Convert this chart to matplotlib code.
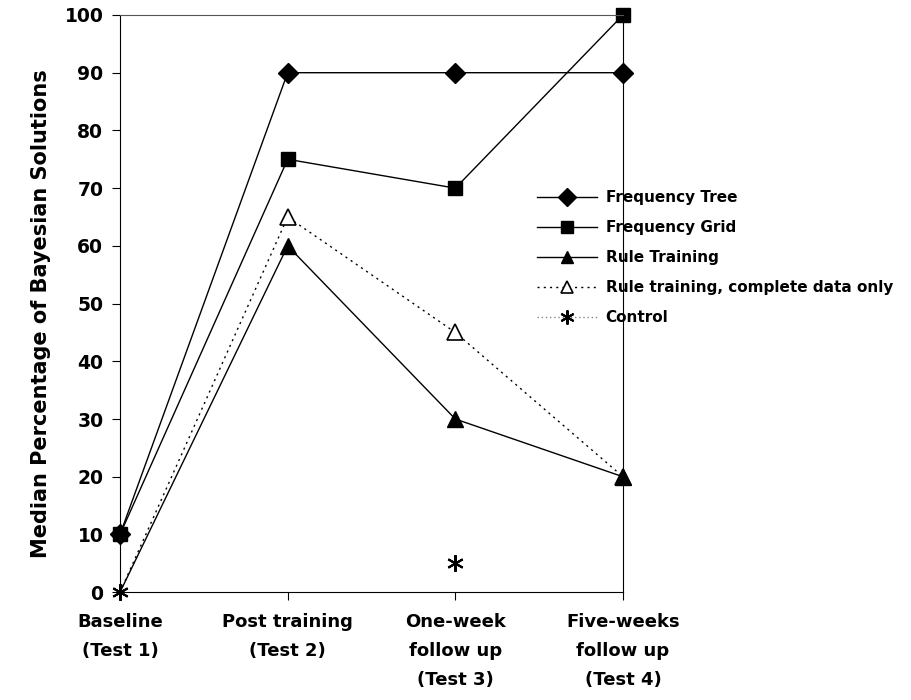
import numpy as np
import matplotlib
matplotlib.use('Agg')
import matplotlib.pyplot as plt

plt.rcParams['font.family'] = ['DejaVu Sans']

# data
tests = ['Baseline\n(Test 1)', 'Post training\n(Test 2)',
         'One-week\nfollow up\n(Test 3)', 'Five-weeks\nfollow up\n(Test 4)']
freq_tree = [10, 90, 90, 90]
freq_grid = [10, 75, 70, 100]
rule_training = [0, 60, 30, 20]
rule_complete = [0, 65, 45, 20]
control = [0, np.nan, 5, np.nan]

x = np.arange(len(tests))

fig = plt.figure(figsize=(9.12, 7.0), dpi=100)
ax = fig.add_axes([0.1316, 0.154, 0.5515, 0.8246])

ax.plot(x, rule_complete, color='black', linestyle=(0, (1.5, 3)), linewidth=1,
        marker='^', markersize=11, markerfacecolor='white', markeredgecolor='black',
        markeredgewidth=1.2, markevery=[1, 2, 3],
        label='Rule training, complete data only')
ax.plot(x, rule_training, color='black', linewidth=1, marker='^', markersize=11,
        markevery=[1, 2, 3], label='Rule Training')
ax.plot(x, freq_tree, color='black', linewidth=1, marker='D', markersize=10.5,
        label='Frequency Tree')
ax.plot(x, freq_grid, color='black', linewidth=1, marker='s', markersize=10.5,
        label='Frequency Grid')
ax.plot(x, control, color='#888888', linestyle=(0, (1, 2)), linewidth=1,
        marker=(6, 2, 0), markersize=12, markeredgecolor='black',
        markeredgewidth=1.5, label='Control')

ax.set_xlim(0, 3)
ax.set_ylim(0, 100)
ax.set_yticks(np.arange(0, 101, 10))
ax.set_xticks(x)
ax.set_xticklabels(tests, fontsize=13, fontweight='bold', linespacing=1.8,
                   va='top')
for lab in ax.get_yticklabels():
    lab.set_fontsize(13.5)
    lab.set_fontweight('bold')
ax.tick_params(axis='both', direction='out', length=6, width=0.8, color='black')
ax.tick_params(axis='x', pad=9)
ax.tick_params(axis='y', pad=6)
for s in ax.spines.values():
    s.set_linewidth(0.8)
ax.spines['top'].set_color('#555555')
ax.set_ylabel('Median Percentage of Bayesian Solutions', fontsize=15,
              fontweight='bold')
ax.yaxis.set_label_coords(-0.137, 0.482)
for m in ax.lines:
    m.set_clip_on(False)

handles, labels = ax.get_legend_handles_labels()
order = ['Frequency Tree', 'Frequency Grid', 'Rule Training',
         'Rule training, complete data only', 'Control']
hmap = dict(zip(labels, handles))
fig.legend([hmap[k] for k in order], order, loc='upper left',
           bbox_to_anchor=(537 / 912, 1 - 190 / 700), frameon=False,
           handlelength=3.9, handletextpad=0.6, markerscale=0.85,
           labelspacing=0.98, borderpad=0, borderaxespad=0,
           prop={'weight': 'bold', 'size': 11})

fig.savefig('out.png', dpi=100)
